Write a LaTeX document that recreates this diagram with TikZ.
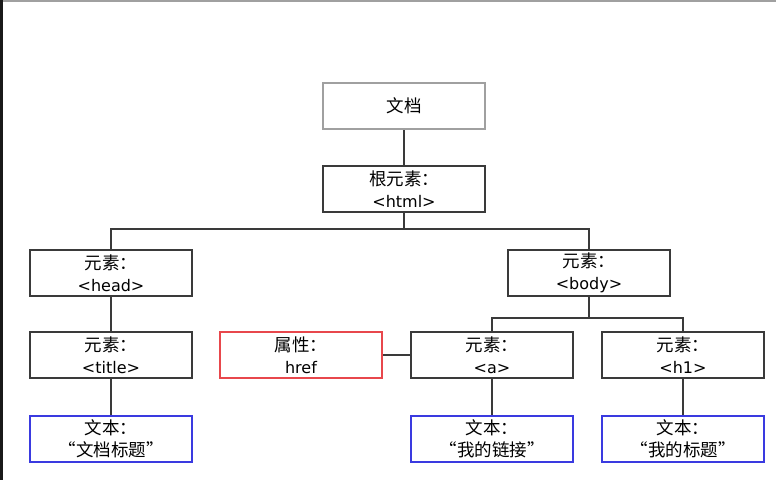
\documentclass[tikz,border=0pt]{standalone}
\usepackage{fontspec}
\setmainfont{DejaVu Sans}
\newfontfamily\cjk{Noto Sans CJK SC}
\newcommand{\lat}[1]{{\rmfamily\fontsize{16}{22}\selectfont #1}}
\definecolor{boxgray}{HTML}{A0A0A0}
\definecolor{boxred}{HTML}{E8474C}
\definecolor{boxblue}{HTML}{3A3AE0}
\definecolor{linedark}{HTML}{3A3A3A}
\begin{document}
\begin{tikzpicture}[x=1pt,y=-1pt,
  treebox/.style={draw=linedark,line width=2pt,fill=white,minimum width=162pt,minimum height=46pt,inner sep=0pt,align=center,font=\cjk\fontsize{17.5}{22}\selectfont},
  rootbox/.style={treebox,draw=boxgray},
  attrbox/.style={treebox,draw=boxred},
  textbox/.style={treebox,draw=boxblue},
  conn/.style={draw=linedark,line width=2pt}]
\useasboundingbox (0,0) rectangle (776,480);
\fill[white] (0,0) rectangle (776,480);
\fill[black!90] (0,0) rectangle (2.5,480);
\fill[boxgray] (2.5,0) rectangle (776,1.5);

\node[rootbox] (doc) at (404,106) {文档};
\node[treebox] (html) at (404,189) {根元素：\\\lat{<html>}};
\node[treebox] (head) at (111,273) {元素：\\\lat{<head>}};
\node[treebox] (body) at (589,273) {元素：\\\lat{<body>}};
\node[treebox] (title) at (111,355) {元素：\\\lat{<title>}};
\node[attrbox] (href) at (301,355) {属性：\\\lat{href}};
\node[treebox] (a) at (492,355) {元素：\\\lat{<a>}};
\node[treebox] (h1) at (683,355) {元素：\\\lat{<h1>}};
\node[textbox] (t1) at (111,439) {文本：\\“文档标题”};
\node[textbox] (t2) at (492,439) {文本：\\“我的链接”};
\node[textbox] (t3) at (683,439) {文本：\\“我的标题”};

\coordinate (b1) at (404,229);
\coordinate (b2) at (589,318);

\draw[conn] (doc.south) -- (html.north);
\draw[conn] (html.south) -- (b1);
\draw[conn] (head.north) |- (b1) -| (body.north);
\draw[conn] (body.south) -- (b2);
\draw[conn] (a.north) |- (b2) -| (h1.north);
\draw[conn] (href.east) -- (a.west);
\draw[conn] (title.north) -- (head.south);
\draw[conn] (title.south) -- (t1.north);
\draw[conn] (a.south) -- (t2.north);
\draw[conn] (h1.south) -- (t3.north);
\end{tikzpicture}
\end{document}
